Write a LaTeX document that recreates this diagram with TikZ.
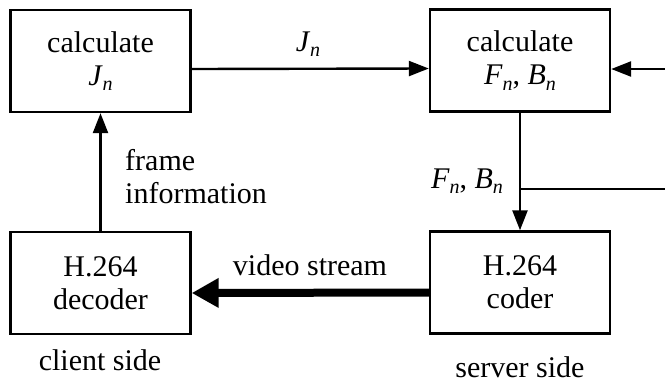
\documentclass[tikz,border=0pt]{standalone}
\usepackage{fontspec}
\setmainfont{Liberation Serif}
\usetikzlibrary{arrows.meta}
\newcommand{\isub}[2]{\textit{#1}\raisebox{-0.4ex}{\fontsize{20}{20}\selectfont\itshape #2}}
\begin{document}
\begin{tikzpicture}[x=1pt,y=-1pt,
  every node/.style={font=\fontsize{30}{33}\selectfont},
  blockbox/.style={draw,line width=2.4pt,minimum width=180pt,minimum height=102pt,align=center,inner sep=0pt},
  thinarrow/.style={line width=2.4pt,-{Triangle[length=20pt,width=15pt]}},
  thickarrow/.style={line width=8pt,-{Triangle[length=27pt,width=28pt]}},
  plainline/.style={line width=2.4pt},
  lbl/.style={inner sep=0pt}]
\useasboundingbox (0,0) rectangle (665,384);
\node[blockbox] (b1) at (100.5,61) {calculate\\\isub{J}{n}};
\node[blockbox] (b2) at (520,60.5) {calculate\\\isub{F}{n}, \isub{B}{n}};
\node[blockbox] (b3) at (100.5,283) {H.264\\decoder};
\node[blockbox] (b4) at (520,282.5) {H.264\\coder};
\coordinate (inR) at (666,69);
\coordinate (br) at (520,189);
\coordinate (brR) at (666,189);
\draw[thinarrow] ([yshift=-8pt]b1.east) -- ([yshift=-8pt]b2.west);
\draw[thinarrow] (inR) -- (inR -| b2.east);
\draw[thinarrow] (b2.south) -- (b4.north);
\draw[plainline] (br) -- (brR);
\draw[thinarrow] (b3.north) -- (b1.south);
\draw[thickarrow] ([yshift=-10pt]b4.west) -- ([yshift=-10pt]b3.east);
\node[lbl] (lj) at (308,44) {\isub{J}{n}};
\node[lbl] (lfb) at (467,181) {\isub{F}{n}, \isub{B}{n}};
\node[lbl,anchor=west,align=left] (lfi) at (125,177) {frame\\information};
\node[lbl] (lvs) at (310,265) {video stream};
\node[lbl] (lcs) at (100,360) {client side};
\node[lbl] (lss) at (520,367) {server side};
\end{tikzpicture}
\end{document}
